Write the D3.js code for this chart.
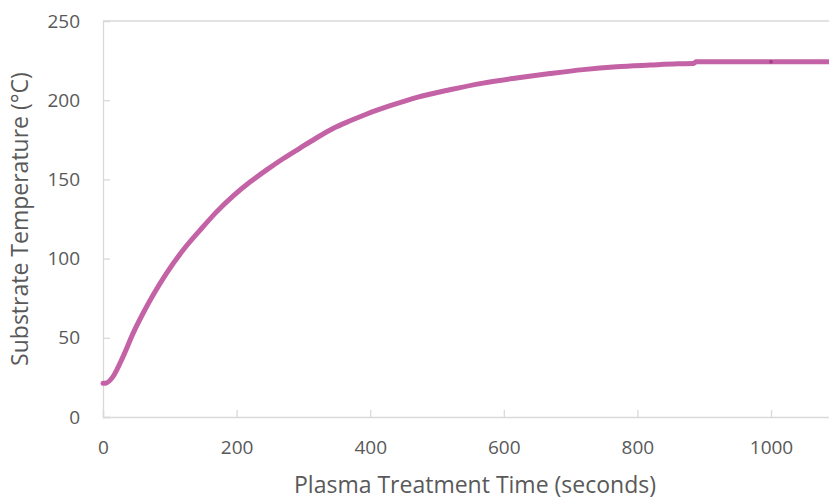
<!DOCTYPE html>
<html>
<head>
<meta charset="utf-8">
<script src="https://cdn.jsdelivr.net/npm/d3@7"></script>
<style>
  body { margin: 0; background: #fff; }
  svg { display: block; }
</style>
</head>
<body>
<svg id="chart" width="829" height="503"></svg>
<script>
// time (s) and substrate temperature (°C)
const timeSec = [0, 5, 15, 30, 45, 60, 75, 95, 120, 145, 170, 195, 220, 245, 270, 295, 320, 345, 370, 395, 430, 470, 519, 569, 619, 669, 719, 769, 819, 860, 884, 888, 1090];
const tempC = [21.3, 21.5, 25.5, 38.1, 52.8, 65.5, 77, 90.7, 105.4, 117.8, 129.5, 139.6, 148.3, 156, 163.2, 169.8, 176.3, 182.3, 187, 191.3, 196.5, 201.8, 206.6, 210.8, 214, 216.8, 219.3, 221.1, 222.2, 223, 223.2, 224.2, 224.2];
const xTicks = [0, 200, 400, 600, 800, 1000];
const yTicks = [0, 50, 100, 150, 200, 250];

const svg = d3.select('#chart');
const plotLeft = 103, plotBottom = 417, plotTop = 21;

const x = d3.scaleLinear().domain([0, 1100]).range([plotLeft, plotLeft + 1100 * 0.668]);
const y = d3.scaleLinear().domain([0, 250]).range([plotBottom, plotTop]);

const axisColor = '#d9d9d9';
const textColor = '#595959';
const font = '"Open Sans", sans-serif';

// top border (250 line)
svg.append('line')
  .attr('x1', plotLeft).attr('x2', x(1100))
  .attr('y1', y(250)).attr('y2', y(250))
  .attr('stroke', axisColor).attr('stroke-width', 1.3);

// left axis
const yAxis = svg.append('g')
  .attr('transform', `translate(${plotLeft},0)`)
  .call(d3.axisLeft(y).tickValues(yTicks).tickSize(-7).tickPadding(23));
yAxis.select('.domain').attr('stroke', axisColor).attr('stroke-width', 1.3);
yAxis.selectAll('.tick line').attr('stroke', axisColor).attr('stroke-width', 1.3);
yAxis.selectAll('.tick text')
  .attr('fill', textColor).attr('font-family', font).attr('font-size', 19);

// bottom axis
const xAxis = svg.append('g')
  .attr('transform', `translate(0,${plotBottom})`)
  .call(d3.axisBottom(x).tickValues(xTicks).tickFormat(d3.format('d')).tickSize(-7).tickPadding(24));
xAxis.select('.domain').attr('stroke', axisColor).attr('stroke-width', 1.3);
xAxis.selectAll('.tick line').attr('stroke', axisColor).attr('stroke-width', 1.3);
xAxis.selectAll('.tick text')
  .attr('fill', textColor).attr('font-family', font).attr('font-size', 19);

// axis titles
svg.append('text')
  .attr('x', 475).attr('y', 493)
  .attr('text-anchor', 'middle')
  .attr('fill', textColor).attr('font-family', font).attr('font-size', 23)
  .text('Plasma Treatment Time (seconds)');

svg.append('text')
  .attr('transform', `translate(28,${(plotTop + plotBottom) / 2}) rotate(-90)`)
  .attr('text-anchor', 'middle')
  .attr('fill', textColor).attr('font-family', font).attr('font-size', 23)
  .text('Substrate Temperature (°C)');

// temperature curve
const pts = timeSec.map((t, i) => [t, tempC[i]]);
const line = d3.line()
  .x(d => x(d[0]))
  .y(d => y(d[1]))
  .curve(d3.curveMonotoneX);

svg.append('path')
  .datum(pts)
  .attr('d', line)
  .attr('fill', 'none')
  .attr('stroke', '#c462a6')
  .attr('stroke-width', 5)
  .attr('stroke-linejoin', 'round')
  .attr('stroke-linecap', 'round');

// small marker at 1000 s
svg.append('circle')
  .attr('cx', x(1000)).attr('cy', y(224.2))
  .attr('r', 1.8)
  .attr('fill', '#a23c80');
</script>
</body>
</html>
